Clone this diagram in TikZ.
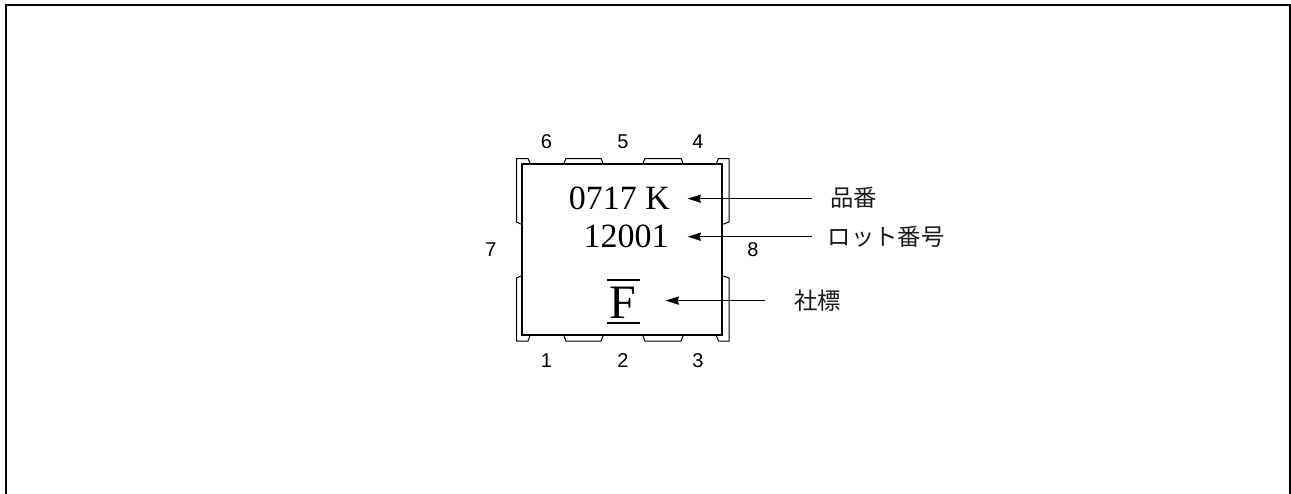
\documentclass[tikz,border=0pt]{standalone}
\usepackage{fontspec}
\setmainfont{Liberation Serif}
\setsansfont{Liberation Sans}
\newfontfamily\cjk{Noto Sans CJK JP}
\usetikzlibrary{arrows.meta}
\tikzset{
  x=0.75pt,y=-0.75pt,
  pin/.style={draw=black,line width=0.75pt,line join=miter},
  pinno/.style={font=\sffamily\fontsize{15}{15}\selectfont,inner sep=0pt},
  mark text/.style={font=\rmfamily\fontsize{25.5}{26}\selectfont,inner sep=0pt},
  jp/.style={font=\cjk\fontsize{17.5}{18}\selectfont,inner sep=0pt,text=black!90},
  lead/.style={line width=1pt,-{Stealth[length=10pt,width=6.2pt,inset=1.2pt]}},
}
\begin{document}
\begin{tikzpicture}
\useasboundingbox (0,0) rectangle (1291,493);
% outer frame
\draw[line width=1.7pt] (6,494) -- (6,5) -- (1290.4,5) -- (1290.4,494);
% pads, top
\draw[pin] (530,163) -- (528,158.5) -- (516.5,158.5) -- (516.5,222) -- (522,224.5);
\draw[pin] (564,163) -- (566,158.5) -- (601,158.5) -- (603,163);
\draw[pin] (643,163) -- (645,158.5) -- (681,158.5) -- (683,163);
\draw[pin] (716.5,163) -- (718.5,158.5) -- (729,158.5) -- (729,222) -- (722,224.5);
% pads, bottom
\draw[pin] (530,336) -- (528,341) -- (516.5,341) -- (516.5,278) -- (522,275.5);
\draw[pin] (564,336) -- (566,341) -- (601,341) -- (603,336);
\draw[pin] (643,336) -- (645,341) -- (681,341) -- (683,336);
\draw[pin] (716.5,336) -- (718.5,341) -- (729,341) -- (729,278) -- (722,275.5);
% body
\node[draw=black,line width=2pt,fill=none,minimum width=150pt,minimum height=128.25pt,inner sep=0pt,outer sep=0pt] (body) at (622,249.5) {};
% pin numbers
\node[pinno] (p6) at (546.5,141.5) {6};
\node[pinno] (p5) at (623,141.5) {5};
\node[pinno] (p4) at (698,141.5) {4};
\node[pinno] (p7) at (491,250) {7};
\node[pinno] (p8) at (753,250) {8};
\node[pinno] (p1) at (546.5,361) {1};
\node[pinno] (p2) at (623,361) {2};
\node[pinno] (p3) at (698,361) {3};
% marking
\node[mark text] (m1) at (619.5,198) {0717 K};
\node[mark text] (m2) at (626,236.5) {12001};
\node[font=\rmfamily\fontsize{36}{36}\selectfont,inner sep=0pt] (logo) at (623,303) {F};
\draw[line width=1.5pt] (607,279.5) -- (639.5,279.5);
\draw[line width=1.5pt] (607,322.5) -- (639.5,322.5);
% labels
\node[jp,anchor=west] (l1) at (830,198) {品番};
\node[jp,anchor=west] (l2) at (827.5,236.5) {ロット番号};
\node[jp,anchor=west] (l3) at (794,301) {社標};
% leaders
\coordinate (s1) at (812,198.7);
\coordinate (e1) at (687.7,198.7);
\coordinate (s2) at (812,236.7);
\coordinate (e2) at (687.7,236.7);
\coordinate (s3) at (764.5,300.6);
\coordinate (e3) at (665.7,300.6);
\draw[lead] (s1) -- (e1);
\draw[lead] (s2) -- (e2);
\draw[lead] (s3) -- (e3);
\end{tikzpicture}
\end{document}
